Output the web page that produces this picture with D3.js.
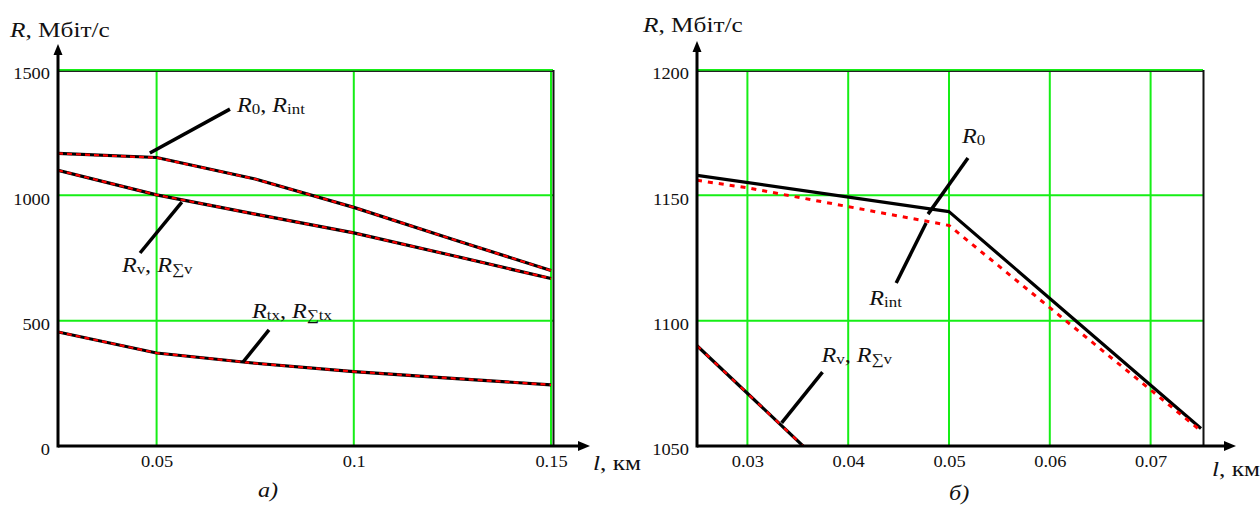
<!DOCTYPE html>
<html>
<head>
<meta charset="utf-8">
<title>R vs l</title>
<script src="https://d3js.org/d3.v7.min.js"></script>
<style>
body { margin: 0; padding: 0; background: white; }
</style>
</head>
<body>
<svg id="chart" width="1260" height="511"></svg>
<script>
// ---- data: panel a) ----
var leftX = [0.025, 0.05, 0.075, 0.1, 0.125, 0.15];
var leftR0 = [1167, 1151, 1065, 952, 825, 700];
var leftRint = [1167, 1150, 1065, 952, 825, 700];
var leftRv = [1100, 1002, 925, 850, 760, 668];
var leftRsumV = [1100, 1002, 925, 850, 760, 668];
var leftRtx = [455, 371, 330, 297, 270, 244];
var leftRsumTx = [455, 371, 330, 297, 270, 244];
var leftXTicks = [0.05, 0.1, 0.15];
var leftYTicks = [0, 500, 1000, 1500];

// ---- data: panel б) ----
var rightR0X = [0.025, 0.05, 0.075];
var rightR0 = [1158, 1143.5, 1057];
var rightRintX = [0.025, 0.03, 0.04, 0.05, 0.075];
var rightRint = [1156, 1153, 1145.5, 1138, 1056];
var rightRvX = [0.025, 0.05];
var rightRv = [1090, 995];
var rightXTicks = [0.03, 0.04, 0.05, 0.06, 0.07];
var rightYTicks = [1050, 1100, 1150, 1200];

var GREEN = "#16ee16";
var FONT = "'Liberation Serif', 'Times New Roman', 'DejaVu Serif', serif";
var SX = 1.15; // text in the picture is a bit wide

var svg = d3.select("#chart");

// text with italic R + upright subscripts
function label(g, px, py, parts, size) {
  var t = g.append("text")
    .attr("transform", "translate(" + px + "," + py + ") scale(" + SX + ",1)")
    .style("font-family", FONT)
    .style("font-size", size + "px")
    .attr("fill", "#111");
  parts.forEach(function(p) {
    var s = t.append("tspan").text(p.t);
    if (p.i) s.style("font-style", "italic");
    if (p.sub) s.style("font-size", (size * 0.7) + "px").attr("dy", 2);
    if (p.up) s.attr("dy", -2);
  });
  return t;
}

function panel(cfg) {
  var g = svg.append("g");
  var x = d3.scaleLinear().domain(cfg.xDomain).range(cfg.xRange);
  var y = d3.scaleLinear().domain(cfg.yDomain).range(cfg.yRange);
  var x0 = cfg.xRange[0], x1 = cfg.xRange[1], y0 = cfg.yRange[0], y1 = cfg.yRange[1];

  // grid
  g.append("g").selectAll("line").data(cfg.xTicks).enter().append("line")
    .attr("x1", function(d) { return x(d); }).attr("x2", function(d) { return x(d); })
    .attr("y1", y0).attr("y2", y1)
    .attr("stroke", GREEN).attr("stroke-width", 2);
  g.append("g").selectAll("line").data(cfg.yTicks).enter().append("line")
    .attr("x1", x0).attr("x2", x1 + 2)
    .attr("y1", function(d) { return y(d); }).attr("y2", function(d) { return y(d); })
    .attr("stroke", GREEN).attr("stroke-width", 2);

  // frame (top + right)
  g.append("line").attr("x1", x0).attr("x2", x1 + 2.5).attr("y1", y1 + 1.3).attr("y2", y1 + 1.3)
    .attr("stroke", "#222").attr("stroke-width", 1.2);
  g.append("line").attr("x1", x1 + 2.5).attr("x2", x1 + 2.5).attr("y1", y1).attr("y2", y0)
    .attr("stroke", "#111").attr("stroke-width", 2);

  // lines
  var clipId = "clip" + cfg.id;
  g.append("clipPath").attr("id", clipId).append("rect")
    .attr("x", x0).attr("y", y1).attr("width", x1 - x0 + 2).attr("height", y0 - y1);
  var lg = g.append("g").attr("clip-path", "url(#" + clipId + ")");
  var line = d3.line().x(function(d) { return x(d[0]); }).y(function(d) { return y(d[1]); });
  cfg.series.forEach(function(s) {
    var pts = d3.zip(s.x, s.y);
    var p = lg.append("path").attr("d", line(pts)).attr("fill", "none")
      .attr("stroke-linejoin", "round");
    if (s.style == "black") p.attr("stroke", "#000").attr("stroke-width", 3.2);
    else p.attr("stroke", "#ff0000").attr("stroke-width", s.w || 2.2).attr("stroke-dasharray", s.dash);
  });

  // axes (labels only)
  var ax = g.append("g").attr("transform", "translate(0," + y0 + ")")
    .call(d3.axisBottom(x).tickValues(cfg.xTicks).tickSize(0).tickPadding(10)
      .tickFormat(function(d) { return String(d); }));
  var ay = g.append("g").attr("transform", "translate(" + x0 + ",0)")
    .call(d3.axisLeft(y).tickValues(cfg.yTicks).tickSize(0).tickPadding(8)
      .tickFormat(function(d) { return String(d); }));
  [ax, ay].forEach(function(a) {
    a.attr("font-family", null).attr("font-size", null);
    a.select(".domain").remove();
    a.selectAll("text").style("font-size", "16px").style("font-family", FONT)
      .attr("fill", "#111").attr("transform", "scale(" + SX + ",1)");
  });
  ay.selectAll("text").attr("dy", "0.55em").attr("x", -8 / SX);

  // axis lines with arrows
  g.append("line").attr("x1", x0).attr("x2", cfg.arrowX - 6).attr("y1", y0).attr("y2", y0)
    .attr("stroke", "#000").attr("stroke-width", 3);
  g.append("path").attr("d", "M" + cfg.arrowX + "," + y0 + " l-12,-5 l0,10 z").attr("fill", "#000");
  g.append("line").attr("x1", x0).attr("x2", x0).attr("y1", y0 + 1.5).attr("y2", cfg.arrowY + 6)
    .attr("stroke", "#000").attr("stroke-width", 3);
  g.append("path").attr("d", "M" + x0 + "," + cfg.arrowY + " l-4.5,11 l9,0 z").attr("fill", "#000");

  // annotations
  cfg.notes.forEach(function(n) {
    g.append("line")
      .attr("x1", x(n.from[0])).attr("y1", y(n.from[1]))
      .attr("x2", x(n.to[0])).attr("y2", y(n.to[1]))
      .attr("stroke", "#000").attr("stroke-width", 3.5);
    label(g, x(n.at[0]), y(n.at[1]), n.parts, 21);
  });

  // titles
  label(g, cfg.yTitle[0], cfg.yTitle[1], [{t: "R", i: true}, {t: ", Мбіт/с"}], 22);
  label(g, cfg.xTitle[0], cfg.xTitle[1], [{t: "l", i: true}, {t: ", км"}], 22);
  label(g, cfg.caption[0], cfg.caption[1], [{t: cfg.captionText, i: true}], 21);
}

panel({
  id: "a",
  xDomain: [0.025, 0.15], xRange: [58, 551],
  yDomain: [0, 1500], yRange: [446, 70],
  xTicks: leftXTicks, yTicks: leftYTicks,
  arrowX: 590, arrowY: 44,
  series: [
    {x: leftX, y: leftR0, style: "black"},
    {x: leftX, y: leftRint, style: "red", dash: "5 4"},
    {x: leftX, y: leftRv, style: "black"},
    {x: leftX, y: leftRsumV, style: "red", dash: "5 4"},
    {x: leftX, y: leftRtx, style: "black"},
    {x: leftX, y: leftRsumTx, style: "red", dash: "5 4"}
  ],
  notes: [
    {from: [0.0483, 1169], to: [0.0686, 1344], at: [0.0704, 1332],
     parts: [{t: "R", i: true}, {t: "0", sub: true}, {t: ", ", up: true}, {t: "R", i: true}, {t: "int", sub: true}]},
    {from: [0.0564, 973], to: [0.0458, 770], at: [0.0412, 694],
     parts: [{t: "R", i: true}, {t: "v", sub: true}, {t: ", ", up: true}, {t: "R", i: true}, {t: "∑v", sub: true}]},
    {from: [0.0719, 335], to: [0.0785, 463], at: [0.0742, 511],
     parts: [{t: "R", i: true}, {t: "tx", sub: true}, {t: ", ", up: true}, {t: "R", i: true}, {t: "∑tx", sub: true}]}
  ],
  yTitle: [10, 37], xTitle: [593, 470],
  caption: [258, 497], captionText: "a)"
});

panel({
  id: "b",
  xDomain: [0.025, 0.075], xRange: [697, 1201],
  yDomain: [1050, 1200], yRange: [446, 70],
  xTicks: rightXTicks, yTicks: rightYTicks,
  arrowX: 1236, arrowY: 41,
  series: [
    {x: rightR0X, y: rightR0, style: "black"},
    {x: rightRintX, y: rightRint, style: "red", dash: "5 6", w: 3},
    {x: rightRvX, y: rightRv, style: "black"},
    {x: rightRvX, y: rightRv, style: "red", dash: "5 7"}
  ],
  notes: [
    {from: [0.05188, 1164.9], to: [0.04792, 1142.5], at: [0.05128, 1170.9],
     parts: [{t: "R", i: true}, {t: "0", sub: true}]},
    {from: [0.04773, 1139], to: [0.04476, 1115], at: [0.0421, 1106.2],
     parts: [{t: "R", i: true}, {t: "int", sub: true}]},
    {from: [0.03745, 1079.5], to: [0.0334, 1059.2], at: [0.03735, 1083.5],
     parts: [{t: "R", i: true}, {t: "v", sub: true}, {t: ", ", up: true}, {t: "R", i: true}, {t: "∑v", sub: true}]}
  ],
  yTitle: [643, 32], xTitle: [1212, 476],
  caption: [949, 500], captionText: "б)"
});
</script>
</body>
</html>
